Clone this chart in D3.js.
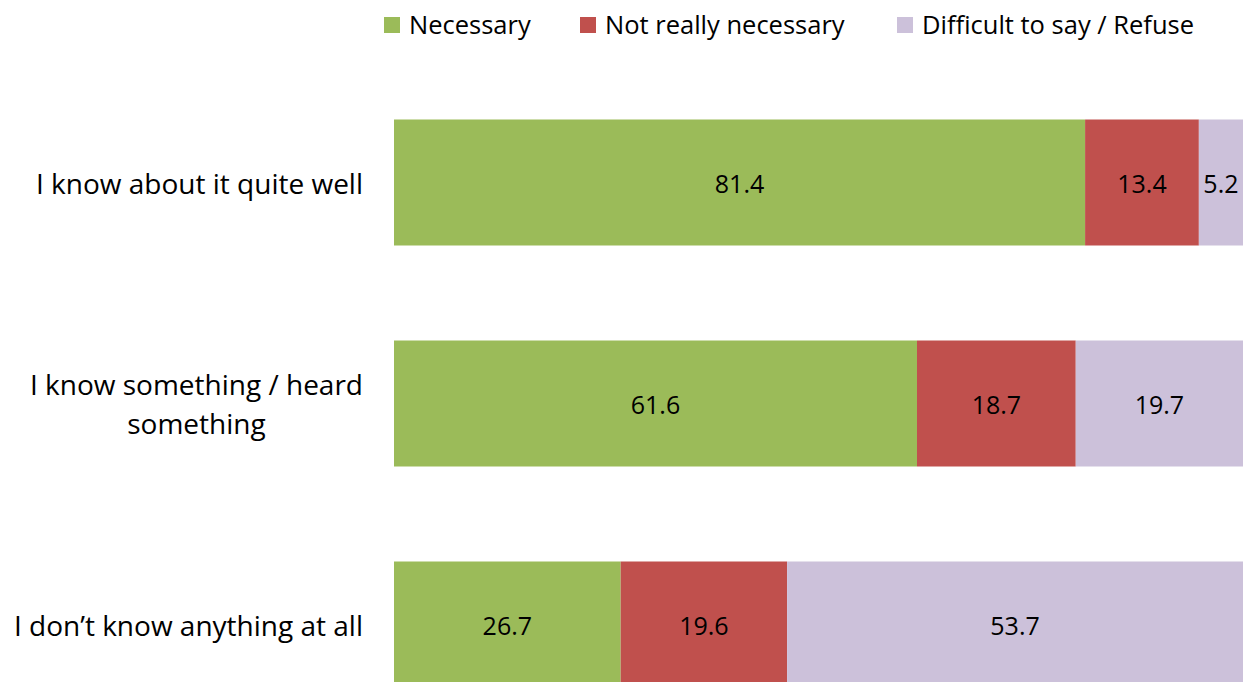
<!DOCTYPE html>
<html><head><meta charset="utf-8">
<script src="https://cdn.jsdelivr.net/npm/d3@7"></script>
<style>
html,body{margin:0;padding:0;background:#fff;}
svg{display:block;font-family:"Open Sans",Lato,sans-serif;}
</style></head>
<body>
<svg id="chart" width="1254" height="682"></svg>
<script>
const categories = ["I know about it quite well", "I know something / heard something", "I don\u2019t know anything at all"];
const categoryLines = [["I know about it quite well"], ["I know something / heard", "something"], ["I don\u2019t know anything at all"]];
const seriesNames = ["Necessary", "Not really necessary", "Difficult to say / Refuse"];
const necessary = [81.4, 61.6, 26.7];
const notNecessary = [13.4, 18.7, 19.6];
const difficult = [5.2, 19.7, 53.7];
const colors = ["#9BBB59", "#C0504D", "#CCC1DA"];

const svg = d3.select("#chart");
const fsLabel = 28, fsLegend = 25.5, fsData = 25;
const x = d3.scaleLinear().domain([0, 100]).range([394, 1243]);
const y = d3.scaleBand().domain(categories).range([119.5, 687.5]).paddingInner(95/221).paddingOuter(0);

const rows = categories.map((c, i) => ({cat: c, Necessary: necessary[i], "Not really necessary": notNecessary[i], "Difficult to say / Refuse": difficult[i]}));
const stacked = d3.stack().keys(seriesNames)(rows);

const g = svg.append("g");
stacked.forEach((s, si) => {
  const sg = g.append("g").attr("fill", colors[si]);
  sg.selectAll("rect").data(s).join("rect")
    .attr("x", d => x(d[0]))
    .attr("y", d => y(d.data.cat))
    .attr("width", d => x(d[1]) - x(d[0]))
    .attr("height", y.bandwidth());
  g.append("g").selectAll("text").data(s).join("text")
    .attr("x", d => (x(d[0]) + x(d[1])) / 2)
    .attr("y", d => y(d.data.cat) + y.bandwidth() / 2)
    .attr("text-anchor", "middle")
    .attr("dominant-baseline", "central")
    .attr("font-size", fsData)
    .attr("fill", "#000")
    .text(d => (d[1] - d[0]).toFixed(1));
});

// category labels
const lab = svg.append("g");
categories.forEach((c, i) => {
  const lines = categoryLines[i];
  const cy = y(c) + y.bandwidth() / 2;
  const lh = 39;
  const t = lab.append("text").attr("font-size", fsLabel).attr("fill", "#000");
  const tmp = lab.append("text").attr("font-size", fsLabel).text(lines[0]);
  const w0 = tmp.node().getComputedTextLength();
  tmp.remove();
  const cx = 363 - w0 / 2;
  lines.forEach((ln, j) => {
    t.append("tspan")
      .attr("x", cx)
      .attr("y", cy + (j - (lines.length - 1) / 2) * lh)
      .attr("text-anchor", "middle")
      .attr("dominant-baseline", "central")
      .text(ln);
  });
});

// legend
const legX = [384, 580, 897];
const leg = svg.append("g");
seriesNames.forEach((n, i) => {
  leg.append("rect").attr("x", legX[i]).attr("y", 17).attr("width", 16).attr("height", 16).attr("fill", colors[i]);
  leg.append("text").attr("x", legX[i] + 25).attr("y", 24).attr("dominant-baseline", "central")
    .attr("font-size", fsLegend).attr("fill", "#000").text(n);
});
</script>
</body></html>
